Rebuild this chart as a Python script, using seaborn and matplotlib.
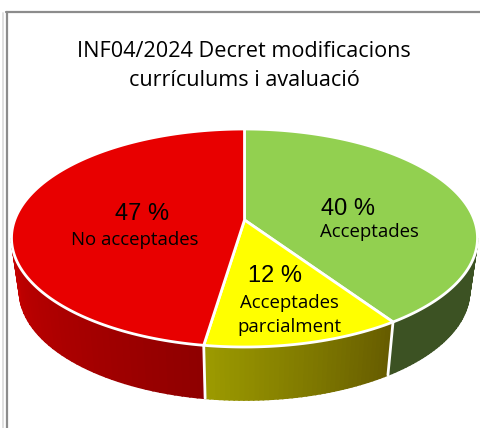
import numpy as np
import matplotlib
matplotlib.use('Agg')
import matplotlib.pyplot as plt
from matplotlib.lines import Line2D
import seaborn as sns

title = "INF04/2024 Decret modificacions\ncurrículums i avaluació"
categories = ["Acceptades", "Acceptades\nparcialment", "No acceptades"]
percent_labels = [40, 12, 47]
# shares as drawn in the picture (the tilted pie stretches the front slices)
drawn_shares = [39, 13.8, 47.2]
top_colors = ["#92D050", "#FFFF00", "#E80000"]
wall_left = ["#3C5223", "#9C9A00", "#C40000"]
wall_right = ["#3C5223", "#665C00", "#8F0000"]

W, H = 481, 428
CX, CY, RX, RY = 244.5, 238, 233, 109
APEX_Y = 18 / 109
WALL_SHRINK = 225 / 233
WALL_DROP = 53 / 109


def px(x, y):
    return x / W, 1 - y / H


sns.set_theme(style="white")
plt.rcParams['font.family'] = ['Open Sans', 'DejaVu Sans']

fig = plt.figure(figsize=(W / 100, H / 100), dpi=100)
ax = fig.add_axes([0, 0, 1, 1])
ax.set_axis_off()
ax.set_xlim(-CX / RX, (W - CX) / RX)
ax.set_ylim((CY - H) / RY, CY / RY)

edges = 90 - np.cumsum([0] + drawn_shares) / sum(drawn_shares) * 360

for i, (a0, a1) in enumerate(zip(edges[:-1], edges[1:])):
    # top face, the apex sits above the centre of the outline because of the perspective
    t = np.radians(np.linspace(a0, a1, 120))
    ax.fill(np.r_[0, np.cos(t)], np.r_[APEX_Y, np.sin(t)], facecolor=top_colors[i],
            edgecolor='white', lw=2, joinstyle='round', zorder=3)

    # side wall, only the front half is visible
    start, end = min(a0, 0), max(a1, -180)
    if start <= end:
        continue
    steps = np.linspace(start, end, 41)
    shades = sns.blend_palette([wall_left[i], wall_right[i]], 40)[::-1]
    for j in range(40):
        t = np.radians(np.linspace(steps[j], steps[j + 1], 4))
        xs = np.r_[np.cos(t), WALL_SHRINK * np.cos(t[::-1])]
        ys = np.r_[np.sin(t), np.sin(t[::-1]) - WALL_DROP]
        ax.fill(xs, ys, color=shades[j], lw=1.2, zorder=1 + j / 100)
    t = np.radians(end)
    if end > -180:
        ax.plot([np.cos(t), WALL_SHRINK * np.cos(t)], [np.sin(t), np.sin(t) - WALL_DROP],
                color='white', lw=2, zorder=2)

# frame of the slide
frame = '#8C8C8C'
fig.add_artist(Line2D([6.5 / W, 6.5 / W], [0, 1 - 12 / H], color=frame, lw=1.6))
fig.add_artist(Line2D([6 / W, 1], [1 - 12 / H, 1 - 12 / H], color=frame, lw=1.6))
fig.add_artist(Line2D([2.5 / W, 2.5 / W], [0, 1 - 13 / H], color='#E0E0E0', lw=1.4))

x, y = px(244, 66)
fig.text(x, y, title, ha='center', va='center', fontsize=15.6, color='black', linespacing=1.55)

pct_pos = [(348, 209), (275, 276), (142, 214)]
name_pos = [(369, 232), (289, 315), (135, 240)]
for pct, name, p, q in zip(percent_labels, categories, pct_pos, name_pos):
    x, y = px(*p)
    fig.text(x, y, f"{pct} %", ha='center', va='center', fontsize=17, color='black',
             family=['Liberation Sans', 'DejaVu Sans'])
    x, y = px(*q)
    fig.text(x, y, name, ha='center', va='center', fontsize=13.4, color='black', linespacing=1.5)

fig.savefig('out.png', dpi=100)
